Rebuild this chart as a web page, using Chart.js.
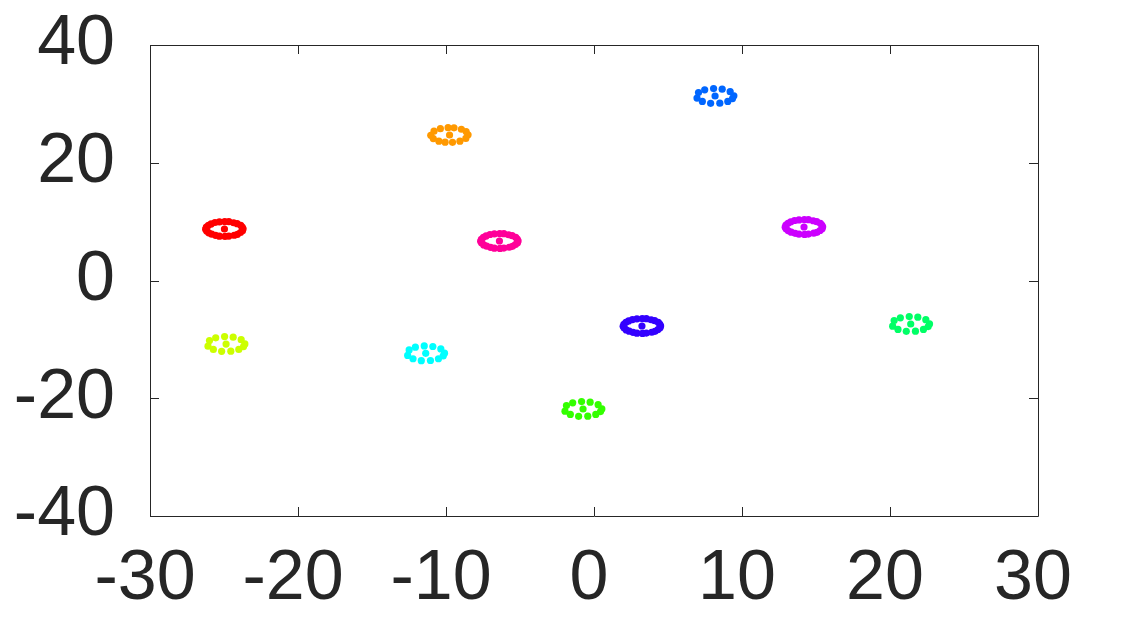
<!DOCTYPE html>
<html>
<head>
<meta charset="utf-8">
<script src="https://cdn.jsdelivr.net/npm/chart.js@4/dist/chart.umd.min.js"></script>
<style>
  html, body { margin: 0; padding: 0; background: #fff; }
  #wrap { width: 1148px; height: 625px; }
</style>
</head>
<body>
<div id="wrap"><canvas id="clusterChart"></canvas></div>
<script>
// cluster centres
const clusterNames = ['c0', 'c1', 'c2', 'c3', 'c4', 'c5', 'c6', 'c7', 'c8', 'c9'];
const centerX = [-24.97, -9.76, -24.86, -0.74, 21.40, -11.37, 8.18, 3.24, 14.19, -6.39];
const centerY = [8.75, 24.71, -10.79, -21.83, -7.39, -12.37, 31.34, -7.73, 9.09, 6.71];
const colors = ['#ff0000', '#ff9900', '#ccff00', '#33ff00', '#00ff66',
                '#00ffff', '#0066ff', '#3300ff', '#cc00ff', '#ff0099'];
const ringType = ['dense', 'mid', 'sparse', 'sparse', 'sparse', 'sparse', 'sparse', 'dense', 'dense', 'dense'];

// point offsets of a ring around each centre (data units)
const ringDenseX = [1.26, 1.20, 1.10, 0.86, 0.62, 0.30, 0.02, -0.34, -0.64, -0.90, -1.08, -1.22,
                    -1.27, -1.20, -1.06, -0.86, -0.60, -0.34, 0.04, 0.30, 0.66, 0.88, 1.08, 1.22];
const ringDenseY = [0.02, 0.34, 0.62, 0.90, 1.06, 1.24, 1.26, 1.20, 1.10, 0.86, 0.62, 0.30,
                    -0.04, -0.34, -0.66, -0.88, -1.08, -1.22, -1.26, -1.20, -1.06, -0.90, -0.60, -0.30];
const ringMidX = [1.25, 1.12, 0.80, 0.30, -0.10, -0.62, -1.05, -1.27, -1.10, -0.72, -0.30, 0.20, 0.70, 1.10];
const ringMidY = [0.05, 0.58, 0.98, 1.22, 1.25, 1.08, 0.66, -0.05, -0.60, -1.04, -1.22, -1.24, -1.04, -0.58];
const ringSparseX = [1.27, 1.02, 0.48, -0.10, -0.70, -1.12, -1.22, -0.86, -0.30, 0.32, 0.86, 1.18];
const ringSparseY = [0.02, 0.74, 1.16, 1.26, 1.05, 0.58, -0.36, -0.92, -1.24, -1.22, -0.92, -0.44];

const rings = {
    dense: [ringDenseX, ringDenseY],
    mid: [ringMidX, ringMidY],
    sparse: [ringSparseX, ringSparseY]
};

const xTicks = [-30, -20, -10, 0, 10, 20, 30];
const yTicks = [-40, -20, 0, 20, 40];

const axisColor = '#262626';
const fontFamily = "'Liberation Sans', Arial, sans-serif";

const datasets = clusterNames.map((name, i) => {
    const [ox, oy] = rings[ringType[i]];
    const pts = ox.map((dx, k) => ({ x: centerX[i] + dx, y: centerY[i] + oy[k] }));
    pts.push({ x: centerX[i], y: centerY[i] }); // centre point
    return {
        label: name,
        data: pts,
        backgroundColor: colors[i],
        borderWidth: 0,
        pointRadius: 3.6,
        pointHoverRadius: 3.6
    };
});

// box around the plot and inward ticks on all four sides
const frameTicks = {
    id: 'frameTicks',
    afterDraw(chart) {
        const ctx = chart.ctx;
        const a = chart.chartArea;
        const xs = chart.scales.x, ys = chart.scales.y;
        const len = 9;
        ctx.save();
        ctx.strokeStyle = axisColor;
        ctx.lineWidth = 1;
        ctx.beginPath();
        ctx.rect(a.left + 0.5, a.top + 0.5, a.right - a.left, a.bottom - a.top);
        xTicks.forEach(v => {
            const px = Math.round(xs.getPixelForValue(v)) + 0.5;
            ctx.moveTo(px, a.bottom); ctx.lineTo(px, a.bottom - len);
            ctx.moveTo(px, a.top); ctx.lineTo(px, a.top + len);
        });
        yTicks.forEach(v => {
            const py = Math.round(ys.getPixelForValue(v)) + 0.5;
            ctx.moveTo(a.left, py); ctx.lineTo(a.left + len, py);
            ctx.moveTo(a.right, py); ctx.lineTo(a.right - len, py);
        });
        ctx.stroke();
        ctx.restore();
    }
};

new Chart(document.getElementById('clusterChart'), {
    type: 'scatter',
    data: { datasets: datasets },
    plugins: [frameTicks],
    options: {
        responsive: true,
        maintainAspectRatio: false,
        animation: false,
        layout: { padding: { top: 45, right: 110, left: 0, bottom: 0 } },
        plugins: {
            legend: { display: false },
            tooltip: { enabled: false }
        },
        scales: {
            x: {
                type: 'linear',
                min: -30,
                max: 30,
                afterBuildTicks: s => { s.ticks = xTicks.map(v => ({ value: v })); },
                afterFit: s => { s.height = 109; s.paddingLeft = 0; s.paddingRight = 0; },
                grid: { display: false, drawTicks: false },
                border: { display: false },
                ticks: {
                    padding: 22,
                    labelOffset: -5,
                    color: axisColor,
                    font: { family: fontFamily, size: 70 },
                    maxRotation: 0,
                    autoSkip: false
                }
            },
            y: {
                type: 'linear',
                min: -40,
                max: 40,
                afterBuildTicks: s => { s.ticks = yTicks.map(v => ({ value: v })); },
                afterFit: s => { s.width = 150; s.paddingTop = 0; s.paddingBottom = 0; },
                grid: { display: false, drawTicks: false },
                border: { display: false },
                ticks: {
                    padding: 35,
                    color: axisColor,
                    font: { family: fontFamily, size: 70 },
                    autoSkip: false
                }
            }
        }
    }
});
</script>
</body>
</html>
